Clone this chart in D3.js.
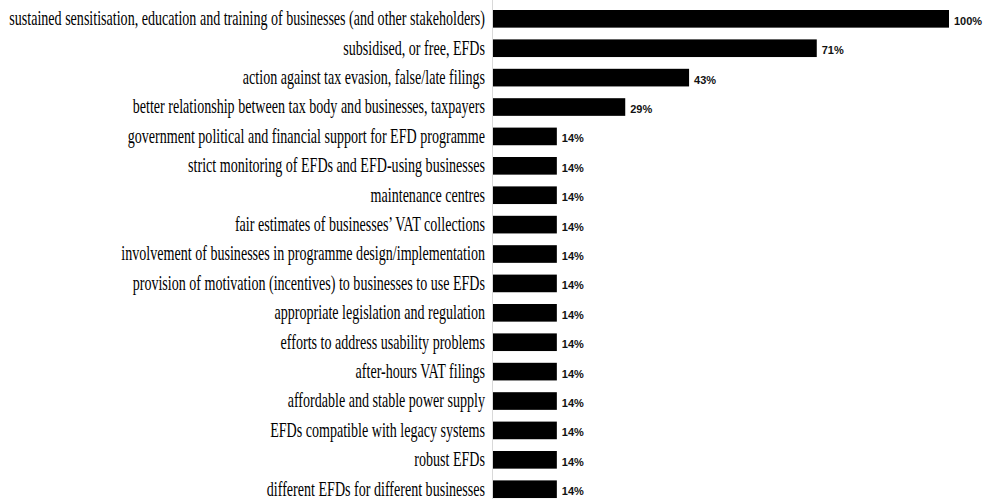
<!DOCTYPE html>
<html>
<head>
<meta charset="utf-8">
<script src="https://cdn.jsdelivr.net/npm/d3@7"></script>
<style>
  body { margin: 0; background: #fff; }
  svg { display: block; }
</style>
</head>
<body>
<div id="chart"></div>
<script>
// *** data
var categories = [
    "sustained sensitisation, education and training of businesses (and other stakeholders)",
    "subsidised, or free, EFDs",
    "action against tax evasion, false/late filings",
    "better relationship between tax body and businesses, taxpayers",
    "government political and financial support for EFD programme",
    "strict monitoring of EFDs and EFD-using businesses",
    "maintenance centres",
    "fair estimates of businesses\u2019 VAT collections",
    "involvement of businesses in programme design/implementation",
    "provision of motivation (incentives) to businesses to use EFDs",
    "appropriate legislation and regulation",
    "efforts to address usability problems",
    "after-hours VAT filings",
    "affordable and stable power supply",
    "EFDs compatible with legacy systems",
    "robust EFDs",
    "different EFDs for different businesses"
];
var values = [100, 71, 43, 29, 14, 14, 14, 14, 14, 14, 14, 14, 14, 14, 14, 14, 14];

var width = 985, height = 499;
var left = 493, right = 949;

var svg = d3.select("#chart").append("svg")
    .attr("width", width)
    .attr("height", height);

var x = d3.scaleLinear().domain([0, 100]).range([left, right]);

var y = d3.scaleBand()
    .domain(categories)
    .range([10, 10 + 29.4 * (categories.length - 0.4)])
    .paddingInner(0.4)
    .paddingOuter(0);

// faint axis line
svg.append("line")
    .attr("x1", left - 0.5).attr("x2", left - 0.5)
    .attr("y1", 0).attr("y2", height)
    .attr("stroke", "#d9d9d9")
    .attr("stroke-width", 1);

// bars
svg.selectAll(".bar")
    .data(values)
    .enter().append("rect")
    .attr("class", "bar")
    .attr("x", x(0))
    .attr("y", function(d, i) { return y(categories[i]); })
    .attr("width", function(d) { return x(d) - x(0); })
    .attr("height", y.bandwidth())
    .attr("fill", "#000");

// value labels
svg.selectAll(".val")
    .data(values)
    .enter().append("text")
    .attr("class", "val")
    .attr("x", function(d) { return x(d) + 5; })
    .attr("y", function(d, i) { return y(categories[i]) + y.bandwidth() / 2; })
    .attr("dy", "0.55em")
    .style("font-family", "'Liberation Sans Narrow', 'Arial Narrow', 'Liberation Sans', sans-serif")
    .style("font-weight", "bold")
    .style("font-size", "11px")
    .style("fill", "#111")
    .text(function(d) { return d + "%"; });

// category labels, condensed serif
var labels = svg.append("g").selectAll(".lab")
    .data(categories)
    .enter().append("text")
    .attr("class", "lab")
    .attr("text-anchor", "end")
    .attr("x", 0)
    .attr("y", function(d) { return y(d) + y.bandwidth() / 2; })
    .attr("dy", "0.32em")
    .style("font-family", "'Liberation Serif', 'Times New Roman', serif")
    .style("font-size", "20px")
    .style("fill", "#000")
    .text(function(d) { return d; });

// squeeze horizontally so the longest label fits like the original
var longest = labels.nodes()[0].getComputedTextLength();
var sx = 476 / longest;
labels.attr("transform", "translate(" + (left - 8) + ",0) scale(" + sx + ",1)");
</script>
</body>
</html>
